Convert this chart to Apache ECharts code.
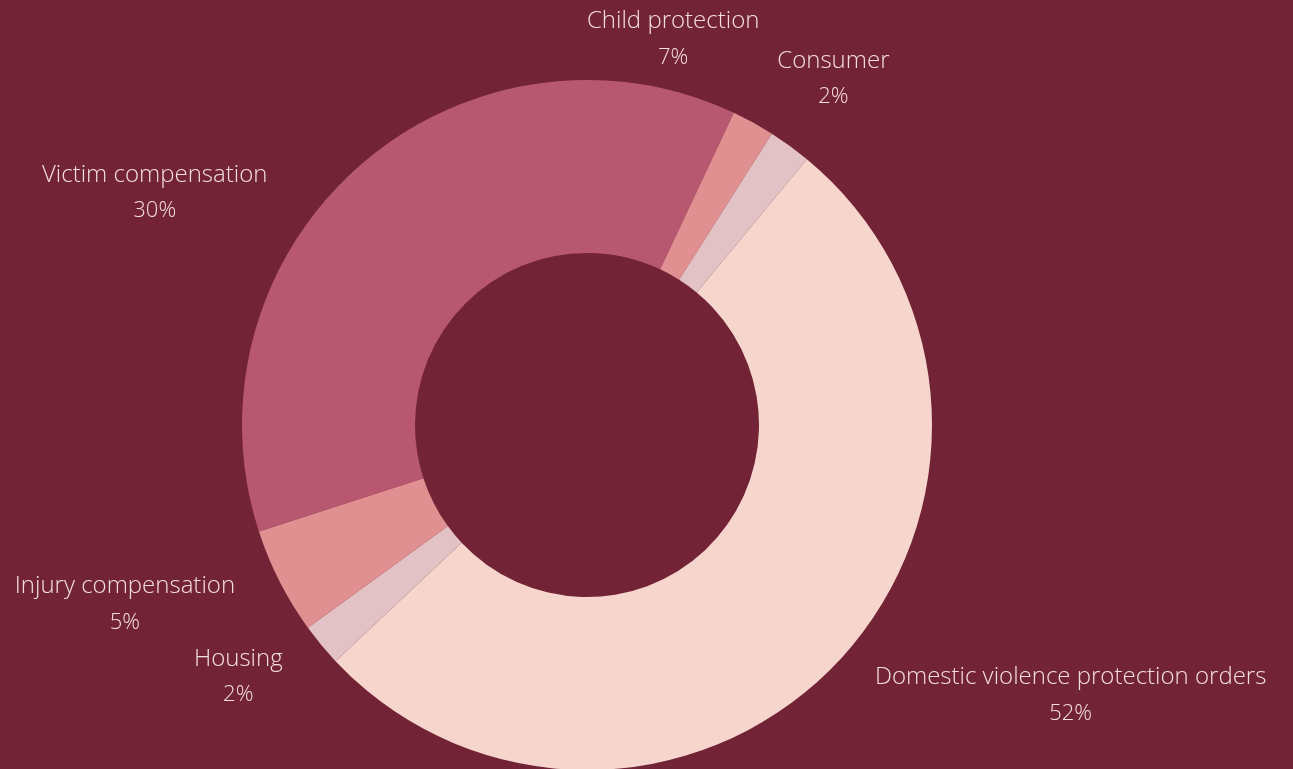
<!DOCTYPE html>
<html>
<head>
<meta charset="utf-8">
<script src="https://cdn.jsdelivr.net/npm/echarts@6/dist/echarts.min.js"></script>
<style>
  html, body { margin: 0; padding: 0; background: #722336; }
  #chart { width: 1293px; height: 769px; }
</style>
</head>
<body>
<div id="chart"></div>
<script>
// Share of matters by area of law
const categories = [
  'Child protection',
  'Consumer',
  'Other',
  'Domestic violence protection orders',
  'Housing',
  'Injury compensation',
  'Victim compensation'
];
const shares = [7, 2, 2, 52, 2, 5, 30];
const sliceColors = ['#B85870', '#E09090', '#E3C2C5', '#F5D5CC', '#E3C2C5', '#E09090', '#B85870'];
const hiddenLabels = ['Other'];
// labels sitting near the top of the ring are centred over their anchor
const centredLabels = ['Child protection'];

const data = categories.map((name, i) => ({
  name,
  value: shares[i],
  itemStyle: { color: sliceColors[i] },
  label: { show: hiddenLabels.indexOf(name) < 0 }
}));

const FONT = '"Open Sans", Lato, sans-serif';
const TEXT_COLOR = '#F3DEDE';

const chart = echarts.init(document.getElementById('chart'), null, { renderer: 'canvas' });
chart.setOption({
  backgroundColor: '#722336',
  animation: false,
  series: [{
    type: 'pie',
    center: [587, 425],
    radius: [172, 345],
    startAngle: 90,
    clockwise: true,
    avoidLabelOverlap: false,
    data,
    itemStyle: { borderWidth: 0 },
    label: {
      show: true,
      position: 'outside',
      distanceToLabelLine: 0,
      formatter: '{n|{b}}\n{v|{c}%}',
      color: TEXT_COLOR,
      fontFamily: FONT,
      fontSize: 24,
      lineHeight: 36,
      rich: {
        n: { align: 'center', fontFamily: FONT, fontWeight: 300, fontSize: 24, lineHeight: 36, color: TEXT_COLOR },
        v: { align: 'center', fontFamily: FONT, fontWeight: 300, fontSize: 22, lineHeight: 36, color: TEXT_COLOR }
      }
    },
    labelLine: { show: false, length: 50, length2: 0 },
    labelLayout: function (p) {
      if (centredLabels.indexOf(categories[p.dataIndex]) >= 0) {
        return { dx: -p.labelRect.width / 2 };
      }
    },
    emphasis: { disabled: true }
  }]
});
</script>
</body>
</html>
